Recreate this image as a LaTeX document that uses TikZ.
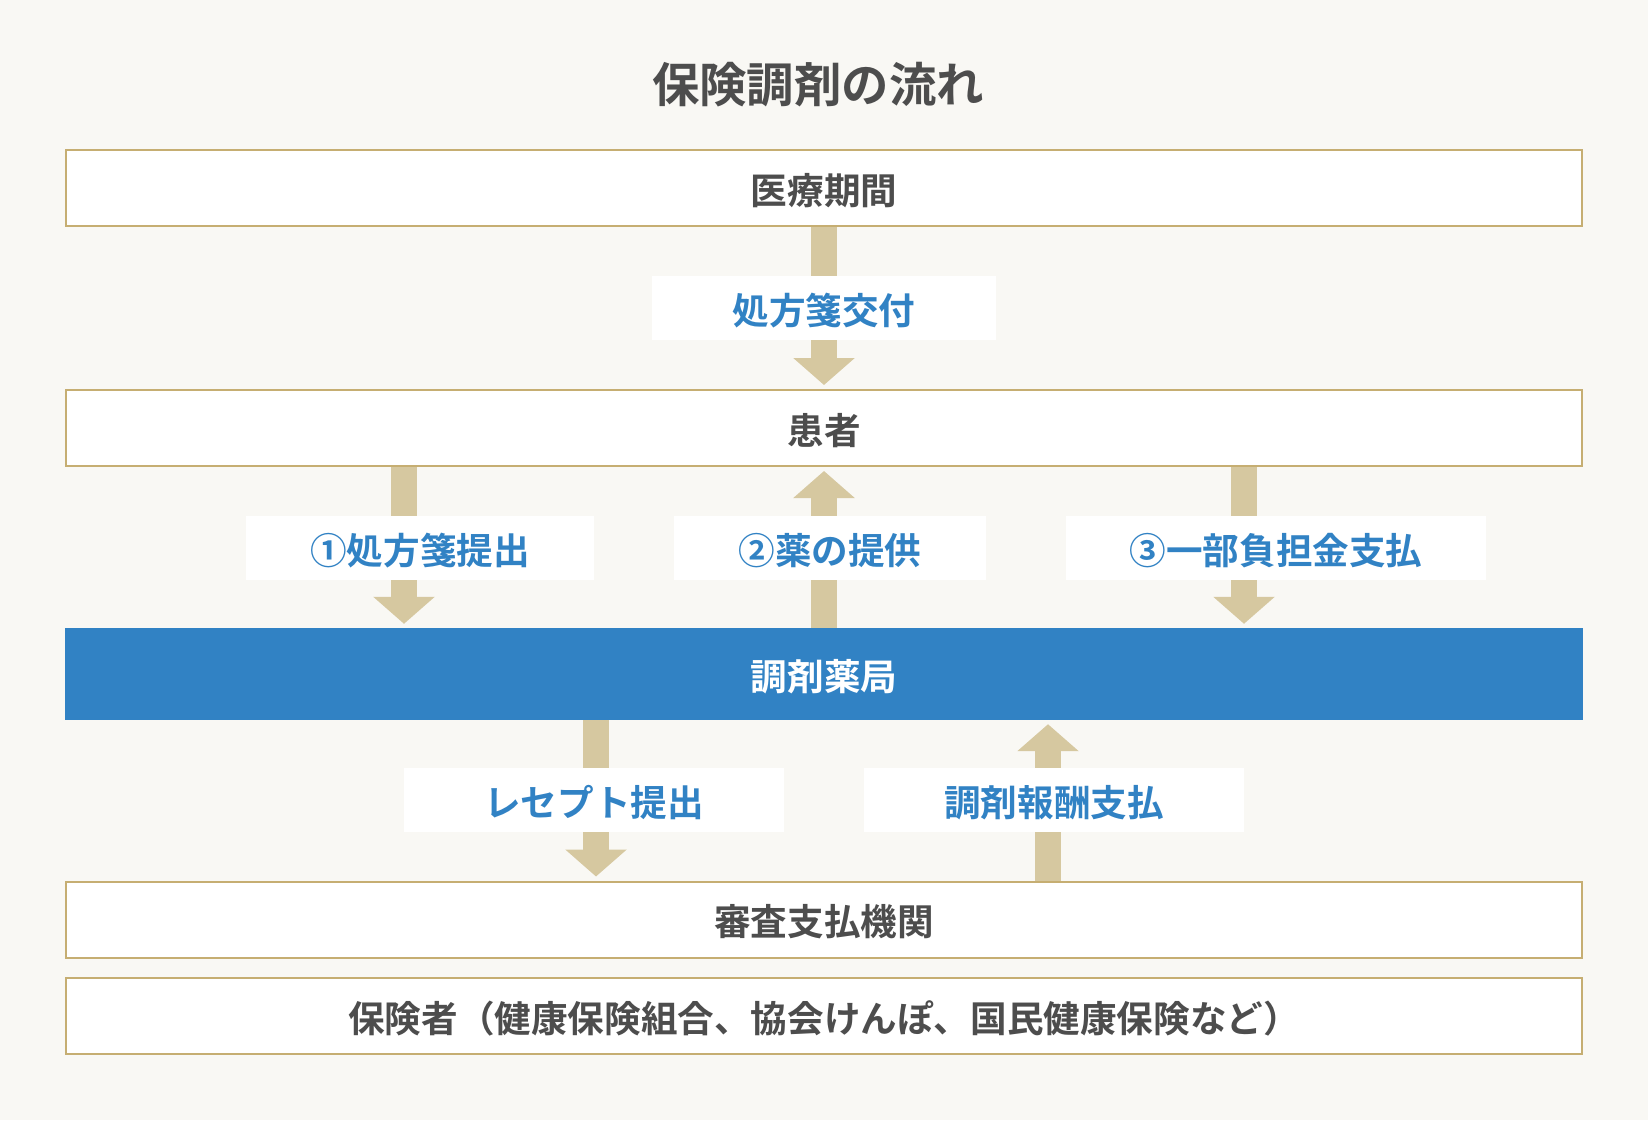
\documentclass[tikz,border=0pt]{standalone}
\usepackage{fontspec}
\setmainfont{Noto Sans CJK JP}[BoldFont={Noto Sans CJK JP Bold}]
\usepackage{tikz}
\usetikzlibrary{positioning}
\usetikzlibrary{arrows.meta}
\usepackage{xcolor}

\definecolor{bggray}{HTML}{F9F8F4}
\definecolor{goldline}{HTML}{C6AE72}
\definecolor{arrowtan}{HTML}{D6C8A0}
\definecolor{darktext}{HTML}{4D4D4D}
\definecolor{pharmblue}{HTML}{3182C4}

\begin{document}
\begin{tikzpicture}[x=1pt,y=-1pt,
  box/.style={draw=goldline, line width=2pt, fill=white, minimum width=1516pt,
    minimum height=76pt, inner sep=0pt, text=darktext, text height=32pt, text depth=0pt,
    font=\fontsize{36.6}{40}\selectfont\bfseries},
  bluebox/.style={fill=pharmblue, minimum width=1518pt, minimum height=92pt,
    inner sep=0pt, text=white, text height=32pt, text depth=0pt,
    font=\fontsize{36.6}{40}\selectfont\bfseries},
  lbl/.style={fill=white, minimum height=64pt, inner sep=0pt, text=pharmblue,
    text height=32pt, text depth=0pt, font=\fontsize{36.6}{40}\selectfont\bfseries},
  flow/.style={draw=arrowtan, line width=26pt, shorten >=4pt,
    -{Triangle[width=60pt,length=27pt]}}
  ]

% background
\fill[bggray] (0,0) rectangle (1648,1120);

% title
\node[text=darktext, font=\fontsize{47.4}{50}\selectfont\bfseries] (title) at (818,85) {保険調剤の流れ};

% boxes
{
\node[box] (iryo) at (824,188) {医療期間};
\node[box] (kanja) at (824,428) {患者};
\node[bluebox] (yakkyoku) at (824,674) {調剤薬局};
\node[box] (shinsa) at (824,919.5) {審査支払機関};
\node[box] (hoken) at (824,1016) {保険者（健康保険組合、協会けんぽ、国民健康保険など）};
}

% arrow columns
\coordinate (c1) at (404,0);
\coordinate (c2) at (824,0);
\coordinate (c3) at (1244,0);
\coordinate (c4) at (596,0);
\coordinate (c5) at (1048,0);

% arrows
{
\draw[flow] (iryo.south) -- (kanja.north);

\draw[flow] (kanja.south -| c1) -- (yakkyoku.north -| c1);
\draw[flow] (yakkyoku.north -| c2) -- (kanja.south -| c2);
\draw[flow] (kanja.south -| c3) -- (yakkyoku.north -| c3);

\draw[flow] (yakkyoku.south -| c4) -- (shinsa.north -| c4);
\draw[flow] (shinsa.north -| c5) -- (yakkyoku.south -| c5);
}

% labels
{
\node[lbl, minimum width=344pt] (kofu) at (824,308) {処方箋交付};

\node[lbl, minimum width=348pt] (teishutsu) at (420,548) {①処方箋提出};
\node[lbl, minimum width=312pt] (teikyo) at (830,548) {②薬の提供};
\node[lbl, minimum width=420pt] (futan) at (1276,548) {③一部負担金支払};

\node[lbl, minimum width=380pt] (receipt) at (594,800) {レセプト提出};
\node[lbl, minimum width=380pt] (hoshu) at (1054,800) {調剤報酬支払};
}

\end{tikzpicture}
\end{document}
